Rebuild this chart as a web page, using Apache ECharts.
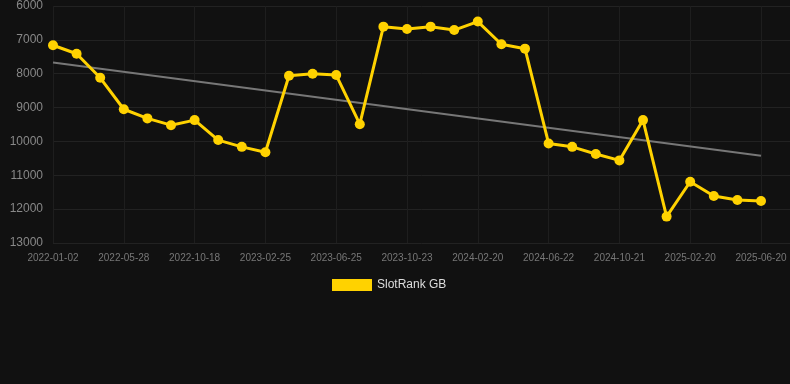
<!DOCTYPE html>
<html>
<head>
<meta charset="utf-8">
<script src="https://cdn.jsdelivr.net/npm/echarts@6/dist/echarts.min.js"></script>
<style>
  html, body { margin: 0; padding: 0; background: #111111; }
  #chart { width: 790px; height: 384px; }
</style>
</head>
<body>
<div id="chart"></div>
<script>
// dates (every third one is shown on the axis)
const dates = [
  '2022-01-02', '2022-02-20', '2022-04-10', '2022-05-28', '2022-07-16', '2022-08-31',
  '2022-10-18', '2022-12-05', '2023-01-16', '2023-02-25', '2023-04-10', '2023-05-20',
  '2023-06-25', '2023-08-10', '2023-09-18', '2023-10-23', '2023-12-05', '2024-01-15',
  '2024-02-20', '2024-04-05', '2024-05-15', '2024-06-22', '2024-08-05', '2024-09-15',
  '2024-10-21', '2024-12-05', '2025-01-10', '2025-02-20', '2025-04-01', '2025-05-10',
  '2025-06-20'
];

// rank values (lower is better, axis inverted)
const slotRankGB = [
  7160, 7410, 8120, 9050, 9320, 9520,
  9370, 9960, 10160, 10320, 8060, 8000,
  8040, 9490, 6610, 6680, 6610, 6710,
  6460, 7130, 7260, 10060, 10160, 10370,
  10560, 9370, 12220, 11190, 11610, 11730,
  11760
];

// trend line end values
const trendStart = 7670;
const trendEnd = 10420;

const trend = dates.map((d, i) =>
  i === 0 ? trendStart : (i === dates.length - 1 ? trendEnd : null));

const myChart = echarts.init(document.getElementById('chart'));

const labelFont = 'Arial, Liberation Sans, sans-serif';

const option = {
  backgroundColor: '#111111',
  animation: false,
  grid: [
    { left: 53, right: 29, top: 6, bottom: 141 },
    // wider grid only for the horizontal lines, which run to the right edge
    { left: 53, right: 0, top: 6, bottom: 141 }
  ],
  legend: {
    data: [{ name: 'SlotRank GB', icon: 'rect' }],
    top: 274,
    left: 327,
    itemWidth: 40,
    itemHeight: 12,
    itemGap: 6,
    textStyle: { color: '#dddddd', fontSize: 12, fontFamily: labelFont }
  },
  xAxis: [
    {
      type: 'category',
      gridIndex: 0,
      boundaryGap: false,
      data: dates,
      axisLine: { show: false },
      axisTick: { show: false },
      axisLabel: {
        interval: 2,
        color: '#777777',
        fontSize: 10,
        margin: 10,
        fontFamily: labelFont
      },
      splitLine: { show: true, interval: 2, lineStyle: { color: '#1e1e1e', width: 1 } }
    },
    {
      type: 'value',
      gridIndex: 1,
      show: false
    }
  ],
  yAxis: [
    {
      type: 'value',
      gridIndex: 0,
      inverse: true,
      min: 6000,
      max: 13000,
      interval: 1000,
      axisLine: { show: false },
      axisTick: { show: false },
      axisLabel: {
        color: '#888888',
        fontSize: 12,
        margin: 10,
        formatter: v => String(v),
        fontFamily: labelFont
      },
      splitLine: { show: false }
    },
    {
      type: 'value',
      gridIndex: 1,
      inverse: true,
      min: 6000,
      max: 13000,
      interval: 1000,
      axisLine: { show: false },
      axisTick: { show: false },
      axisLabel: { show: false },
      splitLine: { lineStyle: { color: '#222222', width: 1 } }
    }
  ],
  series: [
    {
      name: 'Trend',
      type: 'line',
      data: trend,
      connectNulls: true,
      showSymbol: false,
      symbol: 'none',
      lineStyle: { color: '#777777', width: 2 },
      z: 3
    },
    {
      name: 'SlotRank GB',
      type: 'line',
      data: slotRankGB,
      symbol: 'circle',
      symbolSize: 10,
      itemStyle: { color: '#FFD200' },
      lineStyle: { color: '#FFD200', width: 3 },
      z: 4
    }
  ]
};

myChart.setOption(option);
</script>
</body>
</html>
